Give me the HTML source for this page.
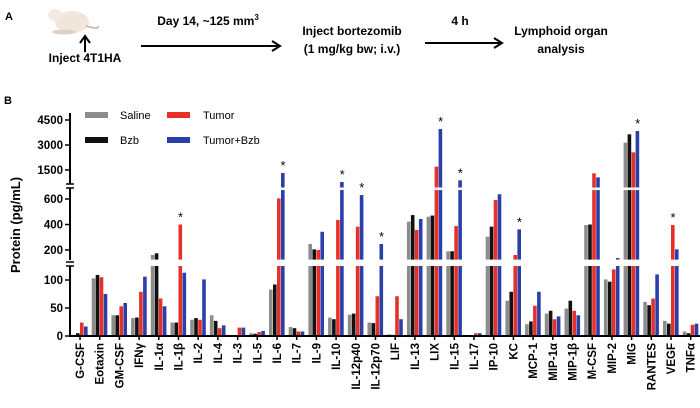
<!DOCTYPE html>
<html><head><meta charset="utf-8"><style>
html,body{margin:0;padding:0;background:#fff}
svg{display:block;font-family:"Liberation Sans",sans-serif}
.b{font-weight:bold}
</style></head><body>
<svg id="fig" width="700" height="408" viewBox="0 0 700 408">
<g>
<text x="5" y="20" font-size="11" class="b">A</text>
<g>
<ellipse cx="72" cy="22" rx="17" ry="11" fill="#efe6dc"/>
<ellipse cx="55" cy="15" rx="7" ry="6" fill="#f2ebe3"/>
<path d="M86 26 Q100 30 98 26" stroke="#d9a9a0" stroke-width="1.5" fill="none"/>
<ellipse cx="64" cy="32" rx="12" ry="2.5" fill="#e3cfc5"/>
</g>
<line x1="85" y1="52" x2="85" y2="38" stroke="#000" stroke-width="2"/>
<path d="M80 43 L85 36 L90 43" stroke="#000" stroke-width="2" fill="none"/>
<text x="85" y="62" font-size="12" class="b" text-anchor="middle">Inject 4T1HA</text>
<text x="208" y="25" font-size="12" class="b" text-anchor="middle">Day 14, ~125 mm<tspan font-size="8" dy="-5">3</tspan></text>
<line x1="141" y1="46" x2="278" y2="46" stroke="#000" stroke-width="2"/>
<path d="M272 41 L280 46 L272 51" stroke="#000" stroke-width="2" fill="none"/>
<text x="352" y="35" font-size="12" class="b" text-anchor="middle">Inject bortezomib</text>
<text x="352" y="53" font-size="12" class="b" text-anchor="middle">(1 mg/kg bw; i.v.)</text>
<text x="460" y="25" font-size="12" class="b" text-anchor="middle">4 h</text>
<line x1="425" y1="43" x2="500" y2="43" stroke="#000" stroke-width="2"/>
<path d="M494 38 L502 43 L494 48" stroke="#000" stroke-width="2" fill="none"/>
<text x="561" y="35" font-size="12" class="b" text-anchor="middle">Lymphoid organ</text>
<text x="561" y="53" font-size="12" class="b" text-anchor="middle">analysis</text>
</g>
<text x="4" y="104" font-size="11" class="b">B</text>
<text transform="translate(20,225) rotate(-90)" font-size="13" class="b" text-anchor="middle">Protein (pg/mL)</text>
<g>
<rect x="85" y="112" width="23" height="6" fill="#8c8c8c"/>
<text x="120" y="119" font-size="11">Saline</text>
<rect x="167" y="112" width="23" height="6" fill="#e8302a"/>
<text x="203" y="119" font-size="11">Tumor</text>
<rect x="85" y="137" width="23" height="6" fill="#111"/>
<text x="120" y="144" font-size="11">Bzb</text>
<rect x="167" y="137" width="23" height="6" fill="#2c3ea8"/>
<text x="203" y="144" font-size="11">Tumor+Bzb</text>
</g>
<g id="chart"></g>
</svg>
<script>
const categories=["G-CSF","Eotaxin","GM-CSF","IFNγ","IL-1α","IL-1β","IL-2","IL-4","IL-3","IL-5","IL-6","IL-7","IL-9","IL-10","IL-12p40","IL-12p70","LIF","IL-13","LIX","IL-15","IL-17","IP-10","KC","MCP-1","MIP-1α","MIP-1β","M-CSF","MIP-2","MIG","RANTES","VEGF","TNFα"];
const saline=[2,103,37,32,161,24,29,37,0,5,83,16,247,33,38,24,3,422,461,190,1,304,63,21,40,49,396,101,3140,61,27,8];
const bzb=[5,109,37,33,174,24,32,27,0,4,92,14,205,30,40,23,2,474,470,190,1,383,79,26,45,63,400,97,3640,55,22,5];
const tumor=[24,105,53,79,67,400,29,14,15,7,605,8,200,435,383,71,71,357,1700,388,5,592,161,54,30,45,1300,119,2560,67,396,20];
const tumorBzb=[17,75,59,106,53,113,101,19,15,9,1320,8,343,780,631,247,30,443,3960,880,5,637,362,79,35,37,1060,137,3840,110,205,22];
const significant=["IL-1β","IL-6","IL-10","IL-12p40","IL-12p70","LIX","IL-15","KC","MIG","VEGF"];
const ticksA=[0,50,100], ticksB=[200,400,600], ticksC=[1500,3000,4500];

const NS="http://www.w3.org/2000/svg";
const g=document.getElementById('chart');
function mk(t,a,p){const e=document.createElementNS(NS,t);for(const k in a)e.setAttribute(k,a[k]);(p||g).appendChild(e);return e;}
const yA=v=>336-v*0.56;
const yB=v=>250-(v-200)*0.1275;
const yC=v=>170-(v-1500)/60;
const capB=670;
function yOf(v){return v<=125?yA(v):v<=capB?yB(v):Math.min(yC(v),185);}
const x0=72, step=19.7, bw=4;
const colors=["#8c8c8c","#111111","#e8302a","#2c3ea8"];
const series=[saline,bzb,tumor,tumorBzb];
const snames=["saline","bzb","tumor","tumor-bzb"];
categories.forEach((c,i)=>{
  const gx=x0+step*i;
  series.forEach((s,k)=>{
    const v=s[i], x=gx+k*bw;
    const segs=[];
    segs.push([336,yA(Math.min(v,125))]);
    if(v>125)segs.push([259.6,yB(Math.min(v,capB))]);
    if(v>capB)segs.push([187.5,Math.min(yC(v),185)]);
    segs.forEach(([b,t])=>{
      if(b-t<=0)return;
      const r=mk('rect',{x:x,y:t,width:bw-0.4,height:b-t,fill:colors[k]});
      
      
    });
  });
  if(significant.includes(c)){
    const top=Math.min(yOf(tumor[i]),yOf(tumorBzb[i]));
    const tx=yOf(tumor[i])<yOf(tumorBzb[i])?gx+2*bw+2:gx+3*bw+2;
    const st=mk('text',{x:tx,y:top-3,'font-size':13,'text-anchor':'middle'});
    st.textContent='*';
    
    
  }
  const lb=mk('text',{transform:`translate(${gx+12},343) rotate(-90)`,'font-size':11.5,'font-weight':'bold','text-anchor':'end'});
  lb.textContent=c;
  
  
});
[[266,336],[188,260],[113,184]].forEach(([a,b])=>{
  const l=mk('line',{x1:70,y1:a,x2:70,y2:b,stroke:'#000','stroke-width':2});
  
  
});
[184,188,262,266].forEach(y=>{mk('line',{x1:66,y1:y,x2:74,y2:y,stroke:'#000','stroke-width':1.5});});
const bl=mk('line',{x1:69,y1:336,x2:700,y2:336,stroke:'#000','stroke-width':2});


categories.forEach((c,i)=>{mk('line',{x1:x0+step*i+8,y1:336,x2:x0+step*i+8,y2:340,stroke:'#000','stroke-width':1.5});});
function tick(v,y){
  mk('line',{x1:65,y1:y,x2:70,y2:y,stroke:'#000','stroke-width':1.5});
  const t=mk('text',{x:63,y:y+4,'font-size':11.5,'font-weight':'bold','text-anchor':'end'});
  t.textContent=v;
  
  
}
ticksA.forEach(v=>tick(v,yA(v)));
ticksB.forEach(v=>tick(v,yB(v)));
ticksC.forEach(v=>tick(v,yC(v)));
</script>
</body></html>
